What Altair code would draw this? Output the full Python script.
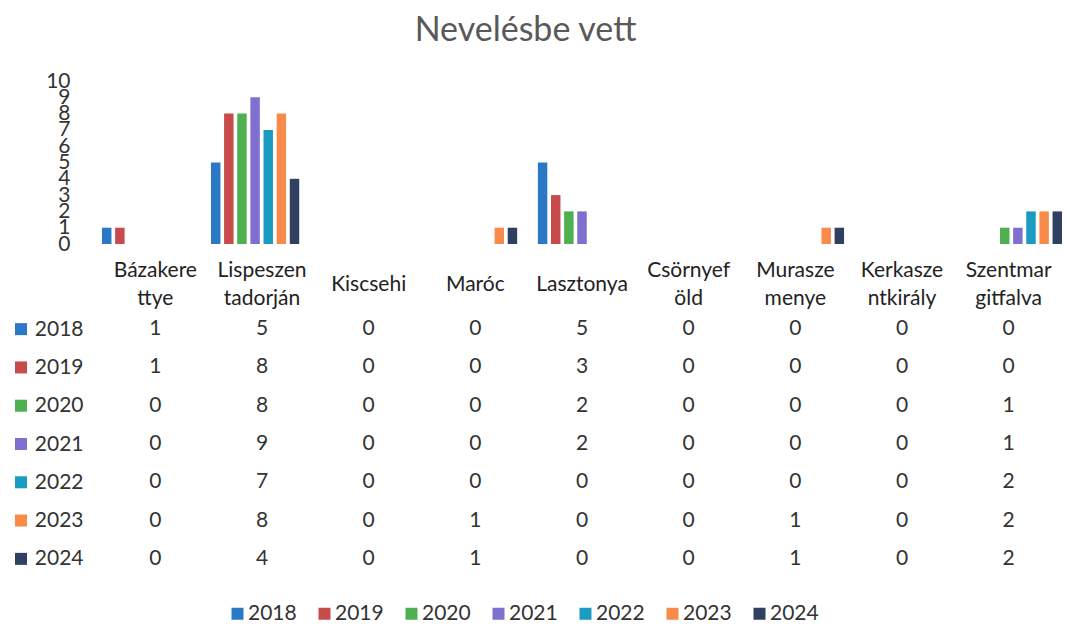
import altair as alt
import pandas as pd

categories = ["Bázakerettye", "Lispeszentadorján", "Kiscsehi", "Maróc", "Lasztonya",
              "Csörnyeföld", "Muraszemenye", "Kerkaszentkirály", "Szentmargitfalva"]
header_labels = ["Bázakere|ttye", "Lispeszen|tadorján", "Kiscsehi", "Maróc", "Lasztonya",
                 "Csörnyef|öld", "Murasze|menye", "Kerkasze|ntkirály", "Szentmar|gitfalva"]
years = ["2018", "2019", "2020", "2021", "2022", "2023", "2024"]

v2018 = [1, 5, 0, 0, 5, 0, 0, 0, 0]
v2019 = [1, 8, 0, 0, 3, 0, 0, 0, 0]
v2020 = [0, 8, 0, 0, 2, 0, 0, 0, 1]
v2021 = [0, 9, 0, 0, 2, 0, 0, 0, 1]
v2022 = [0, 7, 0, 0, 0, 0, 0, 0, 2]
v2023 = [0, 8, 0, 1, 0, 0, 1, 0, 2]
v2024 = [0, 4, 0, 1, 0, 0, 1, 0, 2]
series = [v2018, v2019, v2020, v2021, v2022, v2023, v2024]

colors = ["#2b78c6", "#c84a4a", "#4fb04f", "#7e6fd0", "#1a9bc0", "#f98b4a", "#2f4060"]

rows = []
for yr, vals in zip(years, series):
    for c, v in zip(categories, vals):
        rows.append({"cat": c, "year": yr, "value": v})
df = pd.DataFrame(rows)
hdr = pd.DataFrame({"cat": categories, "label": header_labels})
hdr["lines"] = hdr["label"].str.count(r"\|") + 1
keys_df = pd.DataFrame({"year": years})

FONT = "Lato"
TXT = "#333333"
W = 960

xscale = alt.Scale(domain=categories, paddingInner=0.19, paddingOuter=0)
cscale = alt.Scale(domain=years, range=colors)

bars = alt.Chart(df).mark_bar().encode(
    x=alt.X("cat:N", scale=xscale, sort=categories, axis=None),
    xOffset=alt.XOffset("year:N", scale=alt.Scale(domain=years, paddingInner=0.28)),
    y=alt.Y("value:Q", scale=alt.Scale(domain=[0, 10], nice=False),
            axis=alt.Axis(values=list(range(11)), title=None, domain=False, ticks=False,
                          grid=False, labelFontSize=21, labelFont=FONT, labelColor=TXT,
                          labelPadding=32, labelOverlap=False, labelFlush=False,
                          labelBound=False)),
    color=alt.Color("year:N", scale=cscale,
                    legend=alt.Legend(title=None, orient="none", direction="horizontal",
                                      legendX=125, legendY=522,
                                      symbolType="square", symbolSize=144,
                                      symbolStrokeWidth=0, labelFontSize=21,
                                      labelFont=FONT, labelColor=TXT, labelOffset=0,
                                      columnPadding=17)),
).properties(width=W, height=163)

hdr_base = alt.Chart(hdr).encode(
    x=alt.X("cat:N", scale=xscale, sort=categories, axis=None),
    text="label:N",
)
hdr_one = hdr_base.transform_filter("datum.lines == 1").mark_text(
    fontSize=21, font=FONT, color="#222222", baseline="middle")
hdr_two = hdr_base.transform_filter("datum.lines == 2").mark_text(
    lineBreak="|", fontSize=21, font=FONT, color="#222222", baseline="middle",
    lineHeight=28, dy=-14)
header = alt.layer(hdr_one, hdr_two).properties(width=W, height=50)

tbl_text = alt.Chart(df).mark_text(fontSize=21, font=FONT, color=TXT).encode(
    x=alt.X("cat:N", scale=xscale, sort=categories, axis=None),
    y=alt.Y("year:N", sort=years, scale=alt.Scale(domain=years, paddingInner=0, paddingOuter=0),
            axis=alt.Axis(title=None, domain=False, ticks=False, grid=False,
                          labelFontSize=21, labelFont=FONT, labelColor=TXT, labelPadding=19)),
    text="value:Q",
)
keys = alt.Chart(keys_df).mark_square(size=144, opacity=1).encode(
    x=alt.value(-81),
    y=alt.Y("year:N", sort=years),
    color=alt.Color("year:N", scale=cscale, legend=None),
)
table = alt.layer(tbl_text, keys).properties(width=W, height=268)

lower = alt.vconcat(header, table, spacing=0, bounds="flush")

chart = alt.vconcat(bars, lower, spacing=16, bounds="flush").properties(
    title=alt.TitleParams("Nevelésbe vett", fontSize=34, font=FONT, color="#595959",
                          fontWeight="normal", anchor="middle", offset=22, dx=-13),
    padding={"left": 7, "top": 6, "right": 0, "bottom": 0},
).configure_view(stroke=None)

chart.save("out.html", embed_options={"renderer": "svg", "actions": False})
